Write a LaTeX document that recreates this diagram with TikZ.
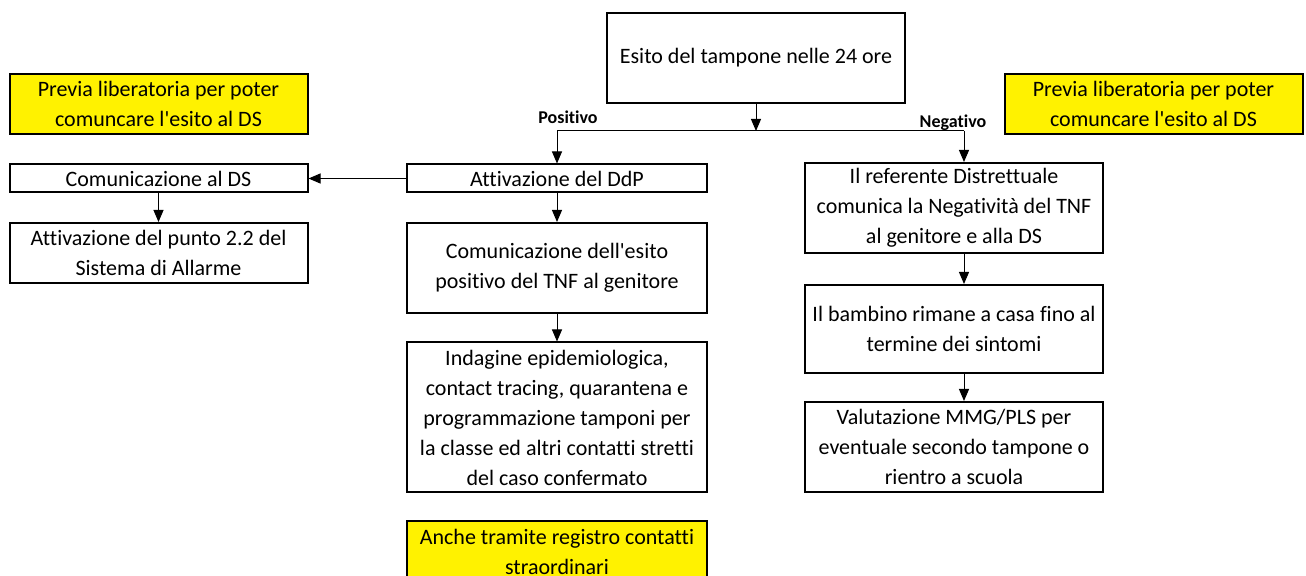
\documentclass[tikz,border=0pt]{standalone}
\usepackage{fontspec}
\setmainfont{Carlito}[Ligatures={NoCommon}]
\usetikzlibrary{arrows.meta}

\begin{document}
\begin{tikzpicture}[x=0.5pt,y=-0.5pt,
  box/.style={draw,line width=1pt,align=center,inner sep=0pt,font=\fontsize{11}{15}\selectfont},
  note/.style={box,fill=yellow},
  lbl/.style={inner sep=0pt,font=\fontsize{9}{11}\selectfont\bfseries},
  arr/.style={line width=0.5pt,-{Triangle[width=5pt,length=6pt]}}]
\useasboundingbox (0,0) rectangle (1306,576);

%Shape: Rectangle [top]
\node[box,minimum width=149pt,minimum height=45pt] (top) at (756,58) {Esito del tampone nelle 24 ore};

%Branch points
\coordinate (pb) at (557,131);
\coordinate (nb) at (964,131);
\node[lbl] (lpos) at (568,117) {Positivo};
\node[lbl] (lneg) at (953,123) {Negativo};

%Shape: Rectangle [notes]
\node[note,minimum width=149pt,minimum height=30pt] (notel) at (158.5,104) {Previa liberatoria per poter\\comuncare l\textquotesingle esito al DS};
\node[note,minimum width=149pt,minimum height=30pt] (noter) at (1153.5,104) {Previa liberatoria per poter\\comuncare l\textquotesingle esito al DS};

%Shape: Rectangle [left column]
\node[box,minimum width=149pt,minimum height=14pt] (comds) at (158.5,178.5) {Comunicazione al DS};
\node[box,minimum width=149pt,minimum height=30pt] (punto) at (158.5,253) {Attivazione del punto 2.2 del\\Sistema di Allarme};

%Shape: Rectangle [positive column]
\node[box,minimum width=150pt,minimum height=14pt] (ddp) at (557,178.5) {Attivazione del DdP};
\node[box,minimum width=150pt,minimum height=45pt] (esito) at (557,268) {Comunicazione dell\textquotesingle esito\\positivo del TNF al genitore};
\node[box,minimum width=150pt,minimum height=75pt] (indag) at (557,417.5) {Indagine epidemiologica,\\contact tracing, quarantena e\\programmazione tamponi per\\la classe ed altri contatti stretti\\del caso confermato};
\node[note,minimum width=150pt,minimum height=31pt] (noteb) at (557,552) {Anche tramite registro contatti\\straordinari};

%Shape: Rectangle [negative column]
\node[box,minimum width=149pt,minimum height=45pt] (refd) at (954,208) {Il referente Distrettuale\\comunica la Negativit\`a del TNF\\al genitore e alla DS};
\node[box,minimum width=149pt,minimum height=44pt] (bamb) at (954,329) {Il bambino rimane a casa fino al\\termine dei sintomi};
\node[box,minimum width=149pt,minimum height=45pt] (valut) at (954,447) {Valutazione MMG/PLS per\\eventuale secondo tampone o\\rientro a scuola};

%Straight Lines [connectors]
\draw[arr] (top) -- (top.south |- pb);
\draw[line width=0.5pt] (pb) -- (nb);
\draw[arr] (pb) -- (ddp);
\draw[arr] (nb) -- (nb |- refd.north);
\draw[arr] (ddp) -- (comds);
\draw[arr] (comds) -- (punto);
\draw[arr] (ddp) -- (esito);
\draw[arr] (esito) -- (indag);
\draw[arr] (refd.south -| nb) -- (bamb.north -| nb);
\draw[arr] (bamb.south -| nb) -- (valut.north -| nb);
\end{tikzpicture}
\end{document}
